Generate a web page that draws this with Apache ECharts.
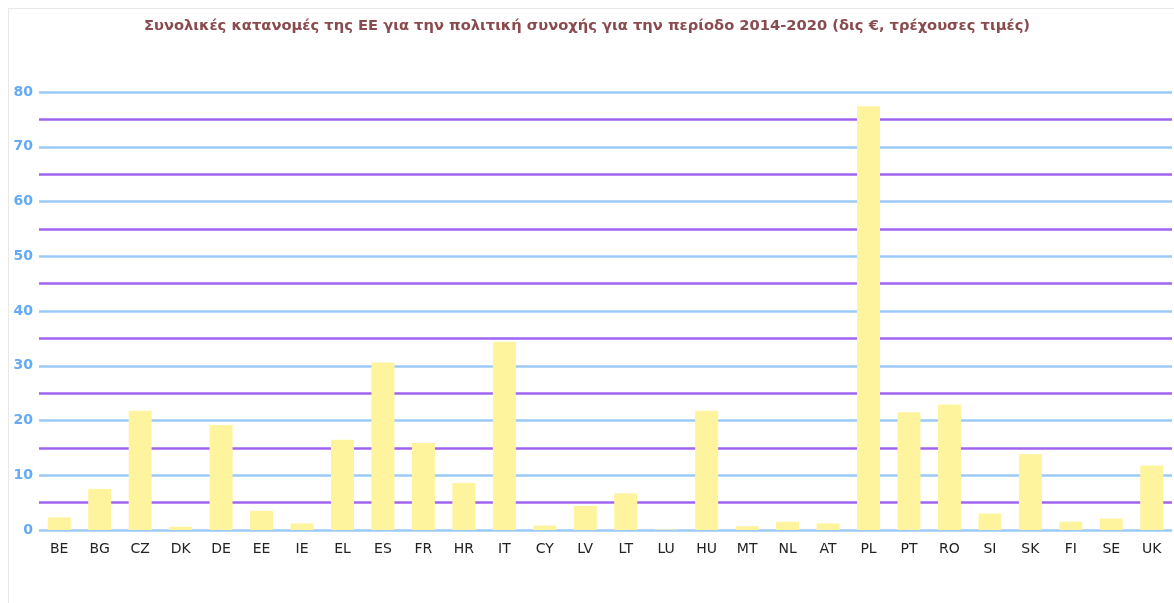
<!DOCTYPE html>
<html>
<head>
<meta charset="utf-8">
<script src="https://cdn.jsdelivr.net/npm/echarts@6/dist/echarts.min.js"></script>
<style>
  html, body { margin: 0; padding: 0; background: #fff; }
  #frame { position: absolute; left: 8px; top: 8px; width: 1180px; height: 620px; border: 1px solid #e8e8e8; }
  #chart { position: absolute; left: 0; top: 0; width: 1174px; height: 603px; }
</style>
</head>
<body>
<div id="frame"></div>
<div id="chart"></div>
<script>
// member states
const countries = ["BE","BG","CZ","DK","DE","EE","IE","EL","ES","FR","HR","IT","CY","LV","LT","LU","HU","MT","NL","AT","PL","PT","RO","SI","SK","FI","SE","UK"];
// allocations, bn EUR
const allocations = [2.3, 7.5, 21.8, 0.6, 19.2, 3.5, 1.2, 16.5, 30.6, 15.9, 8.6, 34.4, 0.8, 4.4, 6.7, 0.1, 21.8, 0.7, 1.5, 1.2, 77.4, 21.5, 22.9, 3.0, 13.9, 1.5, 2.1, 11.8];
const titleText = "Συνολικές κατανομές της ΕΕ για την πολιτική συνοχής για την περίοδο 2014-2020 (δις €, τρέχουσες τιμές)";

const chart = echarts.init(document.getElementById("chart"));
chart.setOption({
  animation: false,
  textStyle: { fontFamily: "DejaVu Sans" },
  title: {
    text: titleText,
    left: "center",
    top: 14,
    textStyle: { color: "#8a4b4f", fontSize: 14.7, fontWeight: "bold", fontFamily: "DejaVu Sans" }
  },
  grid: { left: 39, right: 2, top: 92, bottom: 73, containLabel: false },
  xAxis: {
    type: "category",
    data: countries,
    axisLine: { show: false },
    axisTick: { show: false },
    axisLabel: { color: "#222", fontSize: 14, margin: 12 }
  },
  yAxis: {
    type: "value",
    min: 0,
    max: 80,
    interval: 5,
    axisLine: { show: false },
    axisTick: { show: false },
    axisLabel: {
      color: "#64aaf7",
      fontSize: 14,
      fontWeight: "bold",
      margin: 6,
      formatter: function (v) { return v % 10 === 0 ? String(v) : ""; }
    },
    splitLine: {
      lineStyle: { color: ["#9ccaf7", "#a064f0"], width: 2.5 }
    }
  },
  series: [
    {
      type: "bar",
      data: allocations,
      barWidth: 23,
      itemStyle: { color: "#fff49e" }
    }
  ]
});
</script>
</body>
</html>
